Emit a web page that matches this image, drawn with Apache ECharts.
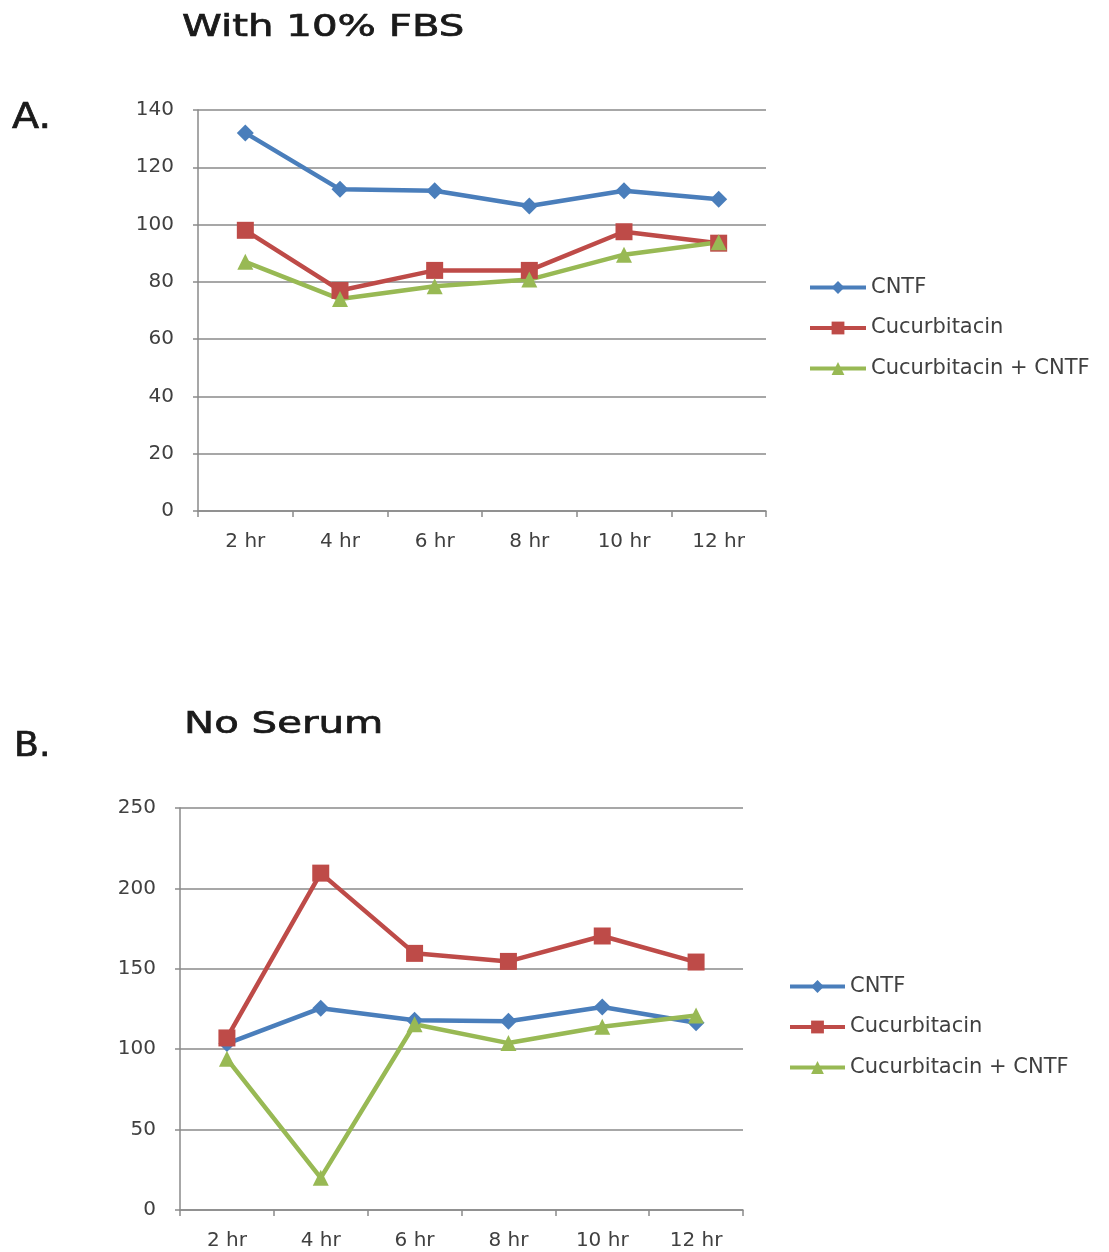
<!DOCTYPE html>
<html>
<head>
<meta charset="utf-8">
<script src="https://cdn.jsdelivr.net/npm/echarts@6/dist/echarts.min.js"></script>
<style>
html,body{margin:0;padding:0;background:#fff;}
#c{width:1109px;height:1252px;}
</style>
</head>
<body>
<div id="c"></div>
<script>
const categories = ['2 hr','4 hr','6 hr','8 hr','10 hr','12 hr'];
const seriesNames = ['CNTF','Cucurbitacin','Cucurbitacin + CNTF'];
// Panel A: With 10% FBS
const aCNTF = [132, 112.3, 111.8, 106.5, 111.8, 108.8];
const aCucurbitacin = [98, 77, 84, 84, 97.5, 93.5];
const aCombo = [87, 74, 78.5, 80.8, 89.5, 93.8];
// Panel B: No Serum
const bCNTF = [103.5, 125.5, 118, 117.4, 126.3, 116.5];
const bCucurbitacin = [107, 209.5, 159.6, 154.6, 170.4, 154.2];
const bCombo = [94, 20, 115.5, 103.8, 114, 121];
const aTicks = {min: 0, max: 140, interval: 20};
const bTicks = {min: 0, max: 250, interval: 50};
const titleA = 'With 10% FBS';
const titleB = 'No Serum';

const colors = ['#4A7EBB', '#BE4B48', '#98B954'];
const symbols = ['diamond', 'rect', 'triangle'];
const symSizes = [17, 17, 16];
const fontFam = '"DejaVu Sans", sans-serif';
const gridLine = '#8a8a8a';
const labelCol = '#404040';

function xAx(gi) {
  return {
    type: 'category', gridIndex: gi, data: categories, boundaryGap: true,
    axisLine: {lineStyle: {color: gridLine, width: 1.5}},
    axisTick: {show: true, alignWithLabel: false, length: 6, lineStyle: {color: gridLine, width: 1.5}},
    axisLabel: {color: labelCol, fontSize: 20, fontFamily: fontFam, margin: 21}
  };
}
function yAx(gi, t) {
  return {
    type: 'value', gridIndex: gi, min: t.min, max: t.max, interval: t.interval,
    axisLine: {show: true, lineStyle: {color: gridLine, width: 1.5}},
    axisTick: {show: true, length: 5, lineStyle: {color: gridLine, width: 1.5}},
    splitLine: {show: true, lineStyle: {color: gridLine, width: 1.5}},
    axisLabel: {color: labelCol, fontSize: 20, fontFamily: fontFam, margin: 24}
  };
}
function mk(name, data, i, gi) {
  return {
    name: name, type: 'line', xAxisIndex: gi, yAxisIndex: gi, data: data,
    color: colors[i], symbol: symbols[i], symbolSize: symSizes[i],
    lineStyle: {width: 4.5, color: colors[i]},
    itemStyle: {color: colors[i]},
    animation: false
  };
}
const legendBase = {
  orient: 'vertical', itemWidth: 56, itemHeight: 16, itemGap: 19.5,
  textStyle: {color: labelCol, fontSize: 21, fontFamily: fontFam},
  lineStyle: {width: 4},
  data: seriesNames
};
function txt(s, x, y, size, sx) {
  return {
    type: 'text', x: x, y: y, scaleX: sx, silent: true,
    style: {text: s, x: 0, y: 0, font: size + 'px "DejaVu Sans", sans-serif', fill: '#1a1a1a',
            stroke: '#1a1a1a', lineWidth: 0.7, verticalAlign: 'middle', align: 'left'}
  };
}

const chart = echarts.init(document.getElementById('c'), null, {renderer: 'canvas'});
chart.setOption({
  backgroundColor: '#fff',
  animation: false,
  graphic: [
    txt(titleA, 182, 28, 31, 1.3),
    txt('A.', 12, 119, 36, 1.1),
    txt(titleB, 184, 725, 31, 1.3),
    txt('B.', 14, 747, 33, 1.1)
  ],
  grid: [
    {left: 198, top: 110, width: 568, height: 401},
    {left: 180, top: 808, width: 563, height: 402}
  ],
  xAxis: [xAx(0), xAx(1)],
  yAxis: [yAx(0, aTicks), yAx(1, bTicks)],
  legend: [
    Object.assign({}, legendBase, {left: 803, top: 272}),
    Object.assign({}, legendBase, {left: 783, top: 971, itemWidth: 55})
  ],
  series: [
    mk(seriesNames[0], aCNTF, 0, 0),
    mk(seriesNames[1], aCucurbitacin, 1, 0),
    mk(seriesNames[2], aCombo, 2, 0),
    mk(seriesNames[0], bCNTF, 0, 1),
    mk(seriesNames[1], bCucurbitacin, 1, 1),
    mk(seriesNames[2], bCombo, 2, 1)
  ]
});
</script>
</body>
</html>
